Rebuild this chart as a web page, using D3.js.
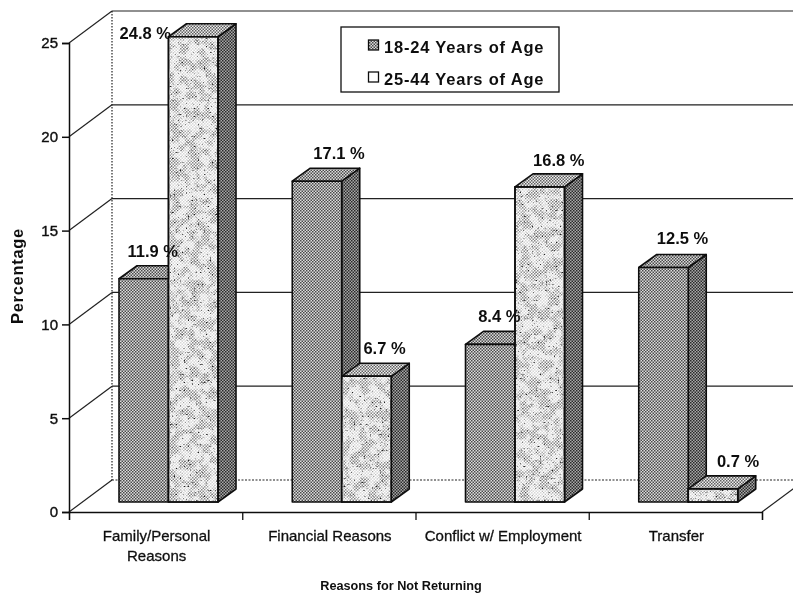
<!DOCTYPE html>
<html><head><meta charset="utf-8">
<script src="https://cdn.jsdelivr.net/npm/d3@7"></script>
<style>html,body{margin:0;padding:0;background:#fff}svg{display:block}text{font-family:"Liberation Sans",Arial,sans-serif;fill:#111}</style>
</head><body><svg id="c" width="793" height="595"></svg>
<script>
const categories = ["Family/Personal Reasons","Financial Reasons","Conflict w/ Employment","Transfer"];
const categoryLines = [["Family/Personal","Reasons"],["Financial Reasons"],["Conflict w/ Employment"],["Transfer"]];
const seriesNames = ["18-24 Years of Age","25-44 Years of Age"];
const ages18to24 = [11.9,17.1,8.4,12.5];
const ages25to44 = [24.8,6.7,16.8,0.7];
const yTicks = [0,5,10,15,20,25];

// layout
const W=793,H=595, x0=69,x1=762,y0=512,y25=43;
const wall={dx:43,dy:-32}, depth={dx:18,dy:-13}, barFront=-10, barW=49.5, bandOffset=50;
const labelShift=[[[0,0],[-57,24]],[[13,0],[9,0]],[[0,0],[10,1]],[[10,-2],[16,0]]];

const svg=d3.select("#c");
const defs=svg.append("defs");
function pat(id,bg,fg,s){
  const p=defs.append("pattern").attr("id",id).attr("width",s).attr("height",s).attr("patternUnits","userSpaceOnUse");
  p.append("rect").attr("width",s).attr("height",s).attr("fill",bg);
  p.append("rect").attr("width",s/2).attr("height",s/2).attr("fill",fg);
  p.append("rect").attr("x",s/2).attr("y",s/2).attr("width",s/2).attr("height",s/2).attr("fill",fg);
}
pat("dark","#dcdcdc","#4a4a4a",3);
pat("darker","#a8a8a8","#2a2a2a",3);
pat("mid","#eeeeee","#606060",3);
pat("lightDots","#ffffff","#858585",3);
pat("faintDots","#ffffff","#d8d8d8",3);
function noise(id,freq,seed,slope,cut){
  const f=defs.append("filter").attr("id",id).attr("x",0).attr("y",0).attr("width",1).attr("height",1);
  f.append("feTurbulence").attr("type","fractalNoise").attr("baseFrequency",freq).attr("numOctaves",3).attr("seed",seed).attr("result","n");
  f.append("feColorMatrix").attr("in","n").attr("type","matrix").attr("values",`0 0 0 0 0 0 0 0 0 0 0 0 0 0 0 ${slope} 0 0 0 ${cut}`).attr("result","m");
  f.append("feComposite").attr("in","SourceGraphic").attr("in2","m").attr("operator","in");
}
noise("mottle",0.1,7,6,-2.6);
noise("specks",0.5,11,9,-6.1);
const soft=defs.append("filter").attr("id","soft").attr("x",0).attr("y",0).attr("width",1).attr("height",1);
soft.append("feGaussianBlur").attr("stdDeviation",0.35);

const root=svg.append("g").attr("filter","url(#soft)");
root.append("rect").attr("width",W).attr("height",H).attr("fill","#fff");

const y=d3.scaleLinear().domain([0,25]).range([y0,y25]);
const x=d3.scaleBand().domain(categories).range([x0,x1]);
const inner=d3.scaleBand().domain(seriesNames).range([0,2*barW]);
const barLeft=c=>x(c)+bandOffset;

// walls and gridlines
const wallG=root.append("g").attr("fill","none").attr("stroke","#222");
yTicks.forEach(t=>{
  const yy=y(t);
  wallG.append("line").attr("x1",x0).attr("y1",yy).attr("x2",x0+wall.dx).attr("y2",yy+wall.dy).attr("stroke-width",1.2);
  wallG.append("line").attr("x1",x0+wall.dx).attr("y1",yy+wall.dy).attr("x2",W).attr("y2",yy+wall.dy)
    .attr("stroke-width",1.2).attr("stroke-dasharray",t===0?"2 1.5":null);
});
wallG.append("line").attr("x1",x0+wall.dx).attr("y1",y(25)+wall.dy).attr("x2",x0+wall.dx).attr("y2",y(0)+wall.dy)
  .attr("stroke-dasharray","1.5 1.5").attr("stroke-width",1.2);
wallG.append("line").attr("x1",x1).attr("y1",y0).attr("x2",x1+wall.dx).attr("y2",y0+wall.dy).attr("stroke-width",1.2);

// bars
function drawBar(cat,val,name,i,j){
  const l=barLeft(cat)+inner(name), r=l+inner.bandwidth();
  const yb=y0+barFront, yt=yb-(y0-y(val));
  const g=root.append("g").attr("stroke","#111").attr("stroke-width",1.6).attr("stroke-linejoin","round");
  const d=depth;
  g.append("path").attr("d",`M${r},${yt}L${r+d.dx},${yt+d.dy}L${r+d.dx},${yb+d.dy}L${r},${yb}Z`).attr("fill","url(#darker)");
  g.append("path").attr("d",`M${l},${yt}L${l+d.dx},${yt+d.dy}L${r+d.dx},${yt+d.dy}L${r},${yt}Z`).attr("fill",j===0?"url(#dark)":"url(#mid)");
  if(j===0){
    g.append("rect").attr("x",l).attr("y",yt).attr("width",r-l).attr("height",yb-yt).attr("fill","url(#dark)");
  }else{
    g.append("rect").attr("x",l).attr("y",yt).attr("width",r-l).attr("height",yb-yt).attr("fill","url(#faintDots)");
    [["url(#lightDots)","url(#mottle)"],["#222","url(#specks)"]].forEach(([fill,flt])=>
      root.append("rect").attr("x",l+1).attr("y",yt+1).attr("width",r-l-2).attr("height",yb-yt-2).attr("fill",fill).attr("filter",flt));
    g.append("rect").attr("x",l).attr("y",yt).attr("width",r-l).attr("height",yb-yt).attr("fill","none");
  }
}
categories.forEach((c,i)=>{
  drawBar(c,ages18to24[i],seriesNames[0],i,0);
  drawBar(c,ages25to44[i],seriesNames[1],i,1);
});

// value labels
categories.forEach((c,i)=>{
  [ages18to24[i],ages25to44[i]].forEach((v,j)=>{
    const name=seriesNames[j], s=labelShift[i][j];
    const cx=barLeft(c)+inner(name)+inner.bandwidth()/2+depth.dx/2+s[0];
    const yt=y0+barFront-(y0-y(v));
    root.append("text").attr("x",cx).attr("y",yt+depth.dy-9+s[1]).attr("text-anchor","middle")
      .attr("font-size",16.5).attr("font-weight","bold").text(v.toFixed(1)+" %");
  });
});

// axes
const axL=root.append("g").attr("transform",`translate(${x0},0)`).call(d3.axisLeft(y).tickValues(yTicks).tickSize(7).tickPadding(4));
axL.selectAll("path,line").attr("stroke","#111").attr("stroke-width",1.5);
axL.selectAll("text").attr("font-size",15).attr("font-family",null).attr("stroke","#111").attr("stroke-width",0.4);
const edges=d3.scalePoint().domain(d3.range(5)).range([x0,x1]);
const axB=root.append("g").attr("transform",`translate(0,${y0})`).call(d3.axisBottom(edges).tickSize(8).tickFormat(""));
axB.selectAll("path,line").attr("stroke","#111").attr("stroke-width",1.3);

// category labels
categories.forEach((c,i)=>{
  const t=root.append("text").attr("text-anchor","middle").attr("font-size",15)
    .attr("stroke","#111").attr("stroke-width",0.3);
  categoryLines[i].forEach((ln,k)=>t.append("tspan").attr("x",x(c)+x.bandwidth()/2+1).attr("y",541+k*20).text(ln));
});
root.append("text").attr("x",401).attr("y",590).attr("text-anchor","middle").attr("font-size",12.7).attr("font-weight","bold").text("Reasons for Not Returning");
root.append("text").attr("transform","translate(23,276) rotate(-90)").attr("text-anchor","middle").attr("font-size",16.5).attr("letter-spacing",0.7).attr("font-weight","bold").text("Percentage");

// legend
const lg=root.append("g");
lg.append("rect").attr("x",341).attr("y",27).attr("width",218).attr("height",65).attr("fill","#fff").attr("stroke","#111").attr("stroke-width",1.3);
seriesNames.forEach((n,i)=>{
  const ly=d3.scaleBand().domain(seriesNames).range([33,97]);
  lg.append("rect").attr("x",368.5).attr("y",ly(n)+7).attr("width",10).attr("height",10).attr("stroke","#111").attr("stroke-width",1.3).attr("fill",i===0?"url(#dark)":"#fff");
  lg.append("text").attr("x",384).attr("y",ly(n)+20).attr("font-size",16.5).attr("letter-spacing",0.8).attr("font-weight","bold").text(n);
});
</script></body></html>
